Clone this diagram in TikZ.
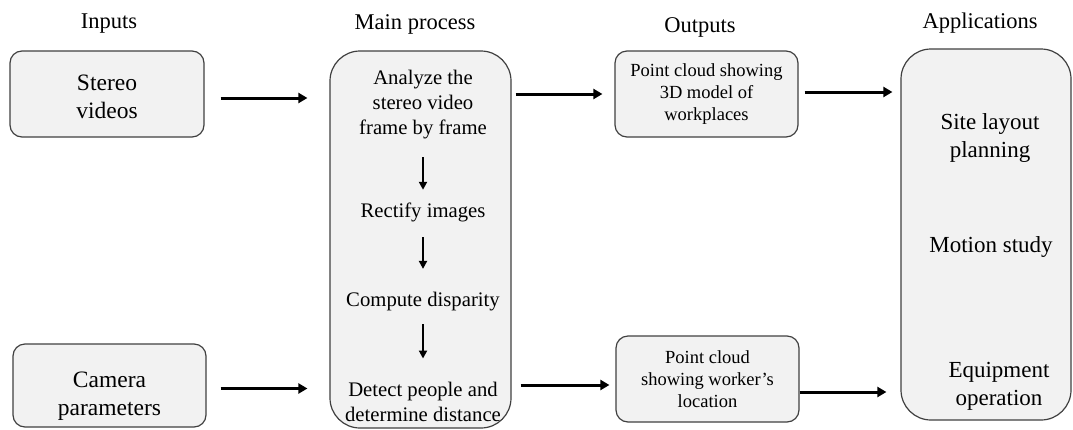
\documentclass[tikz,border=0pt]{standalone}
\usepackage{fontspec}
\setmainfont{Liberation Serif}
\usetikzlibrary{arrows.meta}

\definecolor{boxfill}{HTML}{F2F2F2}
\definecolor{boxline}{HTML}{404040}

\tikzset{
	box/.style={draw=boxline, fill=boxfill, line width=1.2pt, rounded corners=12pt, inner sep=0pt},
	bigbox/.style={box, rounded corners=30pt},
	txt/.style={align=center, inner sep=0pt},
	head/.style={txt, font=\fontsize{22.5}{26}\selectfont},
	intxt/.style={txt, font=\fontsize{23.5}{28}\selectfont},
	steptxt/.style={txt, font=\fontsize{20.7}{25}\selectfont},
	outtxt/.style={txt, font=\fontsize{18.5}{22}\selectfont},
	apptxt/.style={txt, font=\fontsize{23}{28}\selectfont},
	arr/.style={line width=3pt, -{Triangle[length=9pt,width=10pt]}},
	darr/.style={line width=2.2pt, -{Triangle[length=8pt,width=8pt]}}
}

\begin{document}
\begin{tikzpicture}[x=1pt,y=-1pt]

\path [use as bounding box] (0,0) rectangle (1073,429);

% HEADERS
\node[head] (hin) at (109,24) {Inputs};
\node[head] (hmain) at (415,24) {Main process};
\node[head] (hout) at (700,27) {Outputs};
\node[head] (happ) at (980,23) {Applications};

% INPUTS
\node[box, minimum width=194pt, minimum height=86pt] (stereo) at (107,94) {};
\node[intxt] (stereotxt) at (107,97) {Stereo\\videos};
\node[box, minimum width=193pt, minimum height=83pt] (camera) at (109.5,385.5) {};
\node[intxt] (cameratxt) at (109.5,396) {Camera\\parameters};

% MAIN PROCESS
\node[bigbox, minimum width=181pt, minimum height=377pt] (main) at (420.5,239.5) {};
\node[steptxt] (analyze) at (423,104.5) {Analyze the\\stereo video\\frame by frame};
\node[steptxt] (rectify) at (423,212.5) {Rectify images};
\node[steptxt] (compute) at (423,301.5) {Compute disparity};
\node[steptxt] (detect) at (423,401.5) {Detect people and\\determine distance};

% OUTPUTS
\node[box, minimum width=183pt, minimum height=86pt] (cloudA) at (706.5,94) {};
\node[outtxt] (cloudAtxt) at (cloudA) {Point cloud showing\\3D model of\\workplaces};
\node[box, minimum width=183pt, minimum height=86pt] (cloudB) at (707.5,379) {};
\node[outtxt] (cloudBtxt) at (cloudB) {Point cloud\\showing worker’s\\location};

% APPLICATIONS
\node[bigbox, minimum width=170pt, minimum height=371pt] (apps) at (986,234.5) {};
\node[apptxt] (layout) at (990,137.5) {Site layout\\planning};
\node[apptxt] (motion) at (991,246.5) {Motion study};
\node[apptxt] (equip) at (999,386.5) {Equipment\\operation};

% ARROWS
\draw [arr, shorten <=16pt, shorten >=22pt] ([yshift=-4pt]stereo.east) -- ([yshift=-4pt]stereo.east -| main.west);
\draw [arr, shorten <=14pt, shorten >=22pt] ([yshift=-3pt]camera.east) -- ([yshift=-3pt]camera.east -| main.west);
\draw [arr, shorten <=4pt, shorten >=12pt] (cloudA.west -| main.east) -- (cloudA.west);
\draw [arr, shorten <=9pt, shorten >=6pt] ([yshift=-6pt]cloudB.west -| main.east) -- ([yshift=-6pt]cloudB.west);
\draw [arr, shorten <=6pt, shorten >=8pt] ([yshift=2pt]cloudA.east) -- ([yshift=2pt]cloudA.east -| apps.west);
\draw [arr, shorten >=14pt] ([yshift=-13pt]cloudB.east) -- ([yshift=-13pt]cloudB.east -| apps.west);

\draw [darr, shorten <=18pt, shorten >=13pt] (analyze.south) -- (rectify.north);
\draw [darr, shorten <=15pt, shorten >=23pt] (rectify.south) -- (compute.north);
\draw [darr, shorten <=13pt, shorten >=23pt] (compute.south) -- (detect.north);

\end{tikzpicture}
\end{document}
